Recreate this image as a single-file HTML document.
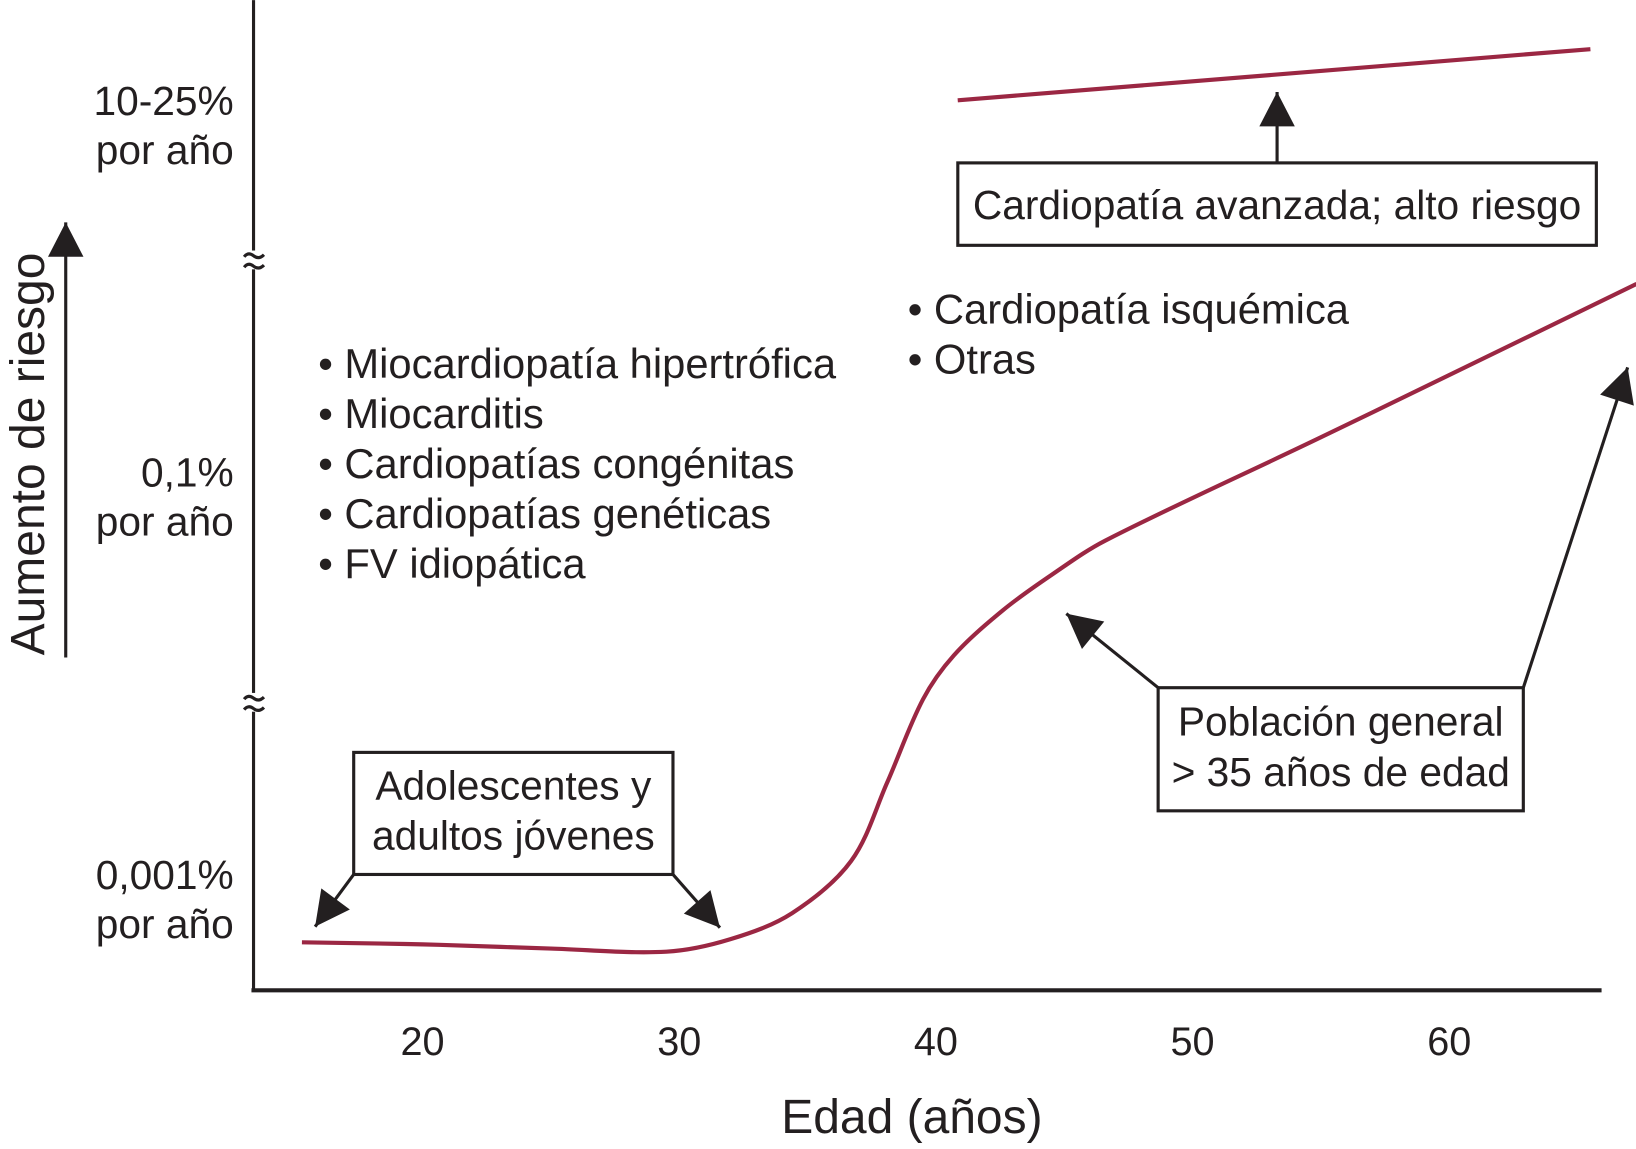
<!DOCTYPE html>
<html><head><meta charset="utf-8"><style>
html,body{margin:0;padding:0;background:#fff}
svg{display:block}
text{font-family:"Liberation Sans",sans-serif;fill:#231f20}
</style></head><body>
<svg id="chart" width="1636" height="1149" viewBox="0 0 1568 1101" xmlns="http://www.w3.org/2000/svg">
<defs>
<marker id="ah" markerWidth="10" markerHeight="10" refX="9" refY="5" orient="auto" markerUnits="userSpaceOnUse" viewBox="0 0 10 10" style="overflow:visible">
<path d="M-24,-12 L9,5 L-24,22 Z" fill="#231f20"/>
</marker>
</defs>
<g id="axes">
<line x1="243" y1="0" x2="243" y2="949" stroke="#231f20" stroke-width="3"/>
<line x1="241" y1="949" x2="1535" y2="949" stroke="#231f20" stroke-width="4"/>
<g fill="none" stroke="#231f20" stroke-width="3">
<rect x="236" y="240" width="14" height="18" fill="#fff" stroke="none"/>
<path d="M234,246 q4,-5 9,-1 t10,-1"/><path d="M234,256 q4,-5 9,-1 t10,-1"/>
</g>
<g fill="none" stroke="#231f20" stroke-width="3">
<rect x="236" y="664" width="14" height="18" fill="#fff" stroke="none"/>
<path d="M234,670 q4,-5 9,-1 t10,-1"/><path d="M234,680 q4,-5 9,-1 t10,-1"/>
</g>
</g>
<g id="xticks"></g>
<g font-size="39">
<text x="224" y="110" text-anchor="end">10-25%</text>
<text x="224" y="157" text-anchor="end">por año</text>
<text x="224" y="466" text-anchor="end">0,1%</text>
<text x="224" y="513" text-anchor="end">por año</text>
<text x="224" y="852" text-anchor="end">0,001%</text>
<text x="224" y="899" text-anchor="end">por año</text>
</g>
<text x="874" y="1086" font-size="46" text-anchor="middle">Edad (años)</text>
<text transform="translate(42,435) rotate(-90)" font-size="46" text-anchor="middle">Aumento de riesgo</text>
<line x1="63" y1="630" x2="63" y2="213" stroke="#231f20" stroke-width="3" marker-end="url(#ah)"/>
<g id="series"></g>
<g font-size="40">
<text x="305" y="362">• Miocardiopatía hipertrófica</text>
<text x="305" y="410">• Miocarditis</text>
<text x="305" y="458">• Cardiopatías congénitas</text>
<text x="305" y="506">• Cardiopatías genéticas</text>
<text x="305" y="554">• FV idiopática</text>
</g>
<g font-size="40">
<text x="870" y="310">• Cardiopatía isquémica</text>
<text x="870" y="358">• Otras</text>
</g>
<g>
<rect x="339" y="721" width="306" height="117" fill="#fff" stroke="#231f20" stroke-width="3"/>
<text x="492" y="766" font-size="39" text-anchor="middle">Adolescentes y</text>
<text x="492" y="814" font-size="39" text-anchor="middle">adultos jóvenes</text>
<line x1="339" y1="838" x2="302" y2="888" stroke="#231f20" stroke-width="3" marker-end="url(#ah)"/>
<line x1="645" y1="838" x2="690" y2="889" stroke="#231f20" stroke-width="3" marker-end="url(#ah)"/>
</g>
<g>
<rect x="1110" y="659" width="350" height="118" fill="#fff" stroke="#231f20" stroke-width="3"/>
<text x="1285" y="705" font-size="39" text-anchor="middle">Población general</text>
<text x="1285" y="753" font-size="39" text-anchor="middle">&gt; 35 años de edad</text>
<line x1="1110" y1="659" x2="1022" y2="588" stroke="#231f20" stroke-width="3" marker-end="url(#ah)"/>
<line x1="1460" y1="659" x2="1560" y2="352" stroke="#231f20" stroke-width="3" marker-end="url(#ah)"/>
</g>
<g>
<rect x="918" y="156" width="612" height="79" fill="#fff" stroke="#231f20" stroke-width="3"/>
<text x="1224" y="210" font-size="39" text-anchor="middle">Cardiopatía avanzada; alto riesgo</text>
<line x1="1224" y1="156" x2="1224" y2="88" stroke="#231f20" stroke-width="3" marker-end="url(#ah)"/>
</g>
</svg>
<script>
const xTicks = [20, 30, 40, 50, 60];
const generalAges = [15.3, 20, 25, 29.5, 32.0, 34.4, 36.7, 38.1, 39.5, 40.7, 42.6, 44.5, 46.6, 55, 67.3];
const generalRisk = [46, 44, 40, 37, 49, 74, 124, 199, 279, 321, 364, 398, 431, 530, 677];
const advancedAges = [40.85, 65.5];
const advancedRisk = [853, 902];

const NS = 'http://www.w3.org/2000/svg';
function xs(a){ return 405 + (a - 20) * 24.6; }
function ys(v){ return 949 - v; }

const xt = document.getElementById('xticks');
xTicks.forEach(t => {
  const el = document.createElementNS(NS, 'text');
  
  
  el.setAttribute('x', xs(t));
  el.setAttribute('y', 1011);
  el.setAttribute('font-size', '38');
  el.setAttribute('text-anchor', 'middle');
  el.textContent = t;
  xt.appendChild(el);
});

function smoothPath(ax, vy){
  const p = ax.map((a,i)=>[xs(a), ys(vy[i])]);
  let d = 'M' + p[0][0] + ',' + p[0][1];
  for (let i=0;i<p.length-1;i++){
    const p0 = p[i-1]||p[i], p1=p[i], p2=p[i+1], p3=p[i+2]||p2;
    const seg = Math.hypot(p2[0]-p1[0], p2[1]-p1[1]);
    const t1 = [p2[0]-p0[0], p2[1]-p0[1]], t2=[p3[0]-p1[0], p3[1]-p1[1]];
    const l1 = Math.hypot(t1[0],t1[1])||1, l2=Math.hypot(t2[0],t2[1])||1;
    const c1=[p1[0]+t1[0]/l1*seg/3, p1[1]+t1[1]/l1*seg/3];
    const c2=[p2[0]-t2[0]/l2*seg/3, p2[1]-t2[1]/l2*seg/3];
    d += ' C'+c1[0]+','+c1[1]+' '+c2[0]+','+c2[1]+' '+p2[0]+','+p2[1];
  }
  return d;
}
const sg = document.getElementById('series');
const g1 = document.createElementNS(NS, 'path');


g1.setAttribute('d', smoothPath(generalAges, generalRisk));
g1.setAttribute('fill', 'none');
g1.setAttribute('stroke', '#9b2743');
g1.setAttribute('stroke-width', '4');
sg.appendChild(g1);
const g2 = document.createElementNS(NS, 'path');


g2.setAttribute('d', smoothPath(advancedAges, advancedRisk));
g2.setAttribute('fill', 'none');
g2.setAttribute('stroke', '#9b2743');
g2.setAttribute('stroke-width', '4');
sg.appendChild(g2);
</script>
</body></html>
